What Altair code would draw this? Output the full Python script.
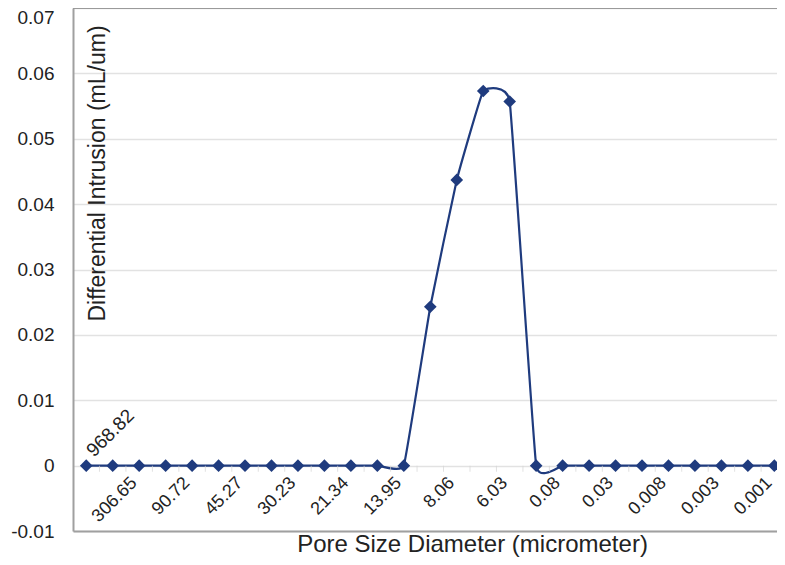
import altair as alt
import pandas as pd

# ---- data ----
point_index = [1, 2, 3, 4, 5, 6, 7, 8, 9, 10, 11, 12, 13, 14,
               15, 16, 17, 18, 19, 20, 21, 22, 23, 24, 25, 26, 27]
intrusion = [0, 0, 0, 0, 0, 0, 0, 0, 0, 0, 0, 0, 0, 0.0243,
             0.0437, 0.0573, 0.0557, 0, 0, 0, 0, 0, 0, 0, 0, 0, 0]

label_index = [1, 3, 5, 7, 9, 11, 13, 15, 17, 19, 21, 23, 25, 27]
label_text = ["968.82", "306.65", "90.72", "45.27", "30.23", "21.34", "13.95",
              "8.06", "6.03", "0.08", "0.03", "0.008", "0.003", "0.001"]

boundaries = [1.5, 2.5, 3.5, 4.5, 5.5, 6.5, 7.5, 8.5, 9.5, 10.5, 11.5, 12.5, 13.5,
              14.5, 15.5, 16.5, 17.5, 18.5, 19.5, 20.5, 21.5, 22.5, 23.5, 24.5,
              25.5, 26.5]

y_ticks = [-0.01, 0, 0.01, 0.02, 0.03, 0.04, 0.05, 0.06, 0.07]

FONT = "Liberation Sans"
NAVY = "#1F3B7E"
TXT = "#222222"

df = pd.DataFrame({"idx": point_index, "value": intrusion})
first_lab = pd.DataFrame({"pos": label_index[:1], "label": label_text[:1]})
other_lab = pd.DataFrame({"pos": label_index[1:], "label": label_text[1:]})
bdf = pd.DataFrame({"b": boundaries})

xscale = alt.Scale(domain=[0.5, 27.1], nice=False, zero=False)
yscale = alt.Scale(domain=[-0.01, 0.07], nice=False, zero=False)

xaxis = alt.Axis(labels=False, ticks=False, grid=False,
                 domainColor="#a0a0a0", domainWidth=2,
                 title="Pore Size Diameter (micrometer)",
                 titleFont=FONT, titleFontSize=24, titleFontWeight="normal",
                 titleColor=TXT, titleX=399, titleY=20,
                 titleAlign="center", titleBaseline="alphabetic")

yaxis = alt.Axis(values=y_ticks,
                 labelExpr="datum.value == 0 ? '0' : (datum.value < 0 ? '-' : '') + format(abs(datum.value), '.2f')",
                 labelBaseline={"condition": {"test": "datum.value >= 0.069", "value": "top"},
                                "value": "middle"},
                 ticks=False, domainColor="#a0a0a0", domainWidth=2,
                 gridColor="#e2e2e2", gridWidth=1.5,
                 labelFont=FONT, labelFontSize=19, labelColor=TXT, labelPadding=19,
                 title="Differential Intrusion (mL/um)",
                 titleFont=FONT, titleFontSize=23, titleFontWeight="normal",
                 titleColor=TXT, titleAngle=270, titleX=31, titleY=165,
                 titleAlign="center", titleBaseline="alphabetic")


def X(field):
    return alt.X(field, scale=xscale, axis=xaxis)


def Y(field=None, datum=None):
    if datum is not None:
        return alt.Y(datum=datum, scale=yscale, axis=yaxis)
    return alt.Y(field, scale=yscale, axis=yaxis)


line = alt.Chart(df).mark_line(interpolate="cardinal", tension=0.72,
                               color=NAVY, strokeWidth=2.2).encode(
    x=X("idx:Q"), y=Y("value:Q"),
)

top_border = alt.Chart(df).mark_rule(color="#9a9a9a", strokeWidth=2).encode(
    y=Y(datum=0.07)
)

ticks = alt.Chart(bdf).mark_tick(orient="vertical", size=6, thickness=1,
                                 color="#d4d4d4", yOffset=3).encode(
    x=X("b:Q"), y=Y(datum=0),
)

points = alt.Chart(df).mark_point(shape="diamond", filled=True, size=160,
                                  color=NAVY, opacity=1).encode(
    x=X("idx:Q"), y=Y("value:Q"),
)

labels_low = alt.Chart(other_lab).mark_text(angle=315, align="right", baseline="top",
                                            dx=-14, dy=-2, font=FONT, fontSize=18,
                                            color=TXT).encode(
    x=X("pos:Q"), y=Y(datum=0), text="label:N",
)

labels_high = alt.Chart(first_lab).mark_text(angle=315, align="left", baseline="alphabetic",
                                             dx=11, dy=0, font=FONT, fontSize=19,
                                             color=TXT).encode(
    x=X("pos:Q"), y=Y(datum=0), text="label:N",
)

chart = alt.layer(line, top_border, ticks, points, labels_low, labels_high).properties(
    width=704, height=523,
    autosize=alt.AutoSizeParams(type="none"),
    padding={"left": 65, "top": 0, "right": 0, "bottom": 26},
    background="white",
).configure_view(stroke=None)

chart.save("out.html", embed_options={"renderer": "svg", "actions": False})
